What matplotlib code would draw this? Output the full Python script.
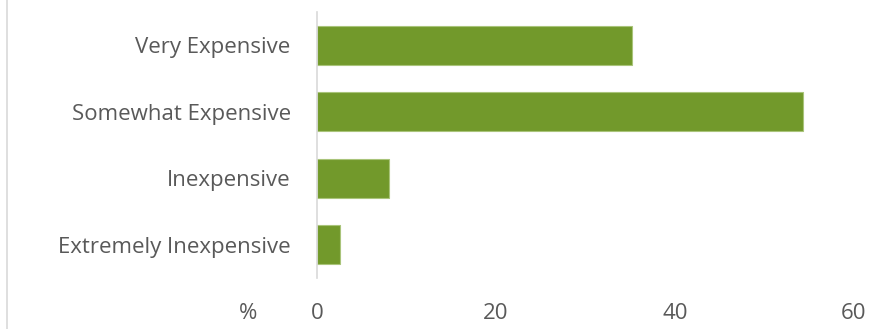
import matplotlib.pyplot as plt
from matplotlib.lines import Line2D

categories = ['Extremely Inexpensive', 'Inexpensive', 'Somewhat Expensive', 'Very Expensive']
values = [2.6, 8.0, 54.3, 35.2]
xticks = [0, 20, 40, 60]

plt.rcParams['font.family'] = ['Open Sans', 'DejaVu Sans']
txt = '#595959'
green = '#72992b'

fig = plt.figure(figsize=(8.89, 3.29), dpi=100)
ax = fig.add_axes([0.3566, 0.1558, 0.6040, 0.8070])

ax.barh(range(len(categories)), values, height=0.59, color=green,
        edgecolor='#a9c47a', linewidth=0.8)
ax.set_ylim(-0.5, len(categories) - 0.5)
ax.set_xlim(0, 60)
ax.set_xticks(xticks)
ax.set_yticks(range(len(categories)))
ax.set_yticklabels(categories)

for s in ['top', 'right', 'bottom']:
    ax.spines[s].set_visible(False)
ax.spines['left'].set_color('#d9d9d9')
ax.spines['left'].set_linewidth(1.2)
ax.tick_params(axis='both', length=0, colors=txt, labelsize=16)
ax.tick_params(axis='y', pad=19)
ax.tick_params(axis='x', pad=18.5)

ax.text(-0.129, -0.097, '%', transform=ax.transAxes, ha='center', va='top',
        color=txt, fontsize=16)

# thin frame edge on the left
fig.add_artist(Line2D([0.0075, 0.0075], [0, 1], transform=fig.transFigure,
                      color='#d9d9d9', linewidth=1.2))

fig.savefig('out.png', dpi=100)
